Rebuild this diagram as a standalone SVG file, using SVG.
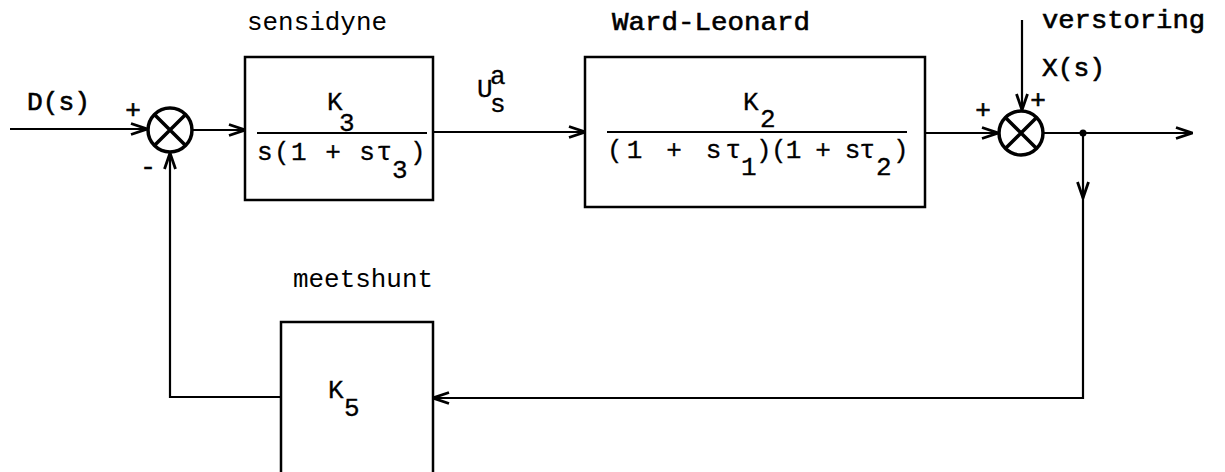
<svg xmlns="http://www.w3.org/2000/svg" width="1225" height="472" viewBox="0 0 1225 472">
<style>
text{font-family:"Liberation Mono","DejaVu Sans Mono",monospace;fill:#000;font-size:26px}
.b{stroke:#000;stroke-width:0.6}
.lbl{stroke:#000;stroke-width:0.3}
.box{fill:none;stroke:#000;stroke-width:2.5}
.ln{fill:none;stroke:#000;stroke-width:2.2}
.sum{fill:none;stroke:#000;stroke-width:3.5}
.frac{stroke:#000;stroke-width:2.2}
</style>
<defs>
<marker id="ah" viewBox="0 0 18 14" refX="17" refY="7" markerWidth="18" markerHeight="14" markerUnits="userSpaceOnUse" orient="auto">
<path d="M1,1.5 L17,7 L1,12.5" fill="none" stroke="#000" stroke-width="2.8"/>
</marker>
</defs>
<rect width="1225" height="472" fill="#fff"/>

<g id="connectors">
<path class="ln" d="M10,129 H147" marker-end="url(#ah)"/>
<path class="ln" d="M193,130 H245" marker-end="url(#ah)"/>
<path class="ln" d="M433,132 H585" marker-end="url(#ah)"/>
<path class="ln" d="M925,133 H998" marker-end="url(#ah)"/>
<path class="ln" d="M1022,20 V110" marker-end="url(#ah)"/>
<path class="ln" d="M1044,133 H1192" marker-end="url(#ah)"/>
<path class="ln" d="M1083,133 V198" marker-end="url(#ah)"/>
<path class="ln" d="M1083,190 V398 H433" marker-end="url(#ah)"/>
<path class="ln" d="M281,397 H170 V153" marker-end="url(#ah)"/>
<circle cx="1083" cy="133" r="3.5" fill="#000"/>
</g>

<g id="input">
<text class="b" x="27" y="110" textLength="63" lengthAdjust="spacingAndGlyphs">D(s)</text>
</g>

<g id="sum1">
<circle class="sum" cx="170" cy="130" r="22"/>
<path class="sum" d="M154.4,114.4 L185.6,145.6 M185.6,114.4 L154.4,145.6" stroke-width="2.8"/>
<text class="b" x="133" y="118" text-anchor="middle" font-size="24">+</text>
<text class="b" x="148" y="175" text-anchor="middle" font-size="24">-</text>
</g>

<g id="sensidyne">
<text x="247" y="30" textLength="140" lengthAdjust="spacingAndGlyphs">sensidyne</text>
<rect class="box" x="245" y="57" width="188" height="143"/>
<text class="lbl" x="327" y="110">K</text>
<text class="lbl" x="339" y="131">3</text>
<line class="frac" x1="257" y1="133" x2="427" y2="133"/>
<text class="lbl" x="257" y="160" textLength="135" lengthAdjust="spacing">s(1 + sτ</text>
<text class="lbl" x="392" y="178">3</text>
<text class="lbl" x="410" y="160">)</text>
</g>

<g id="signal-u">
<text class="lbl" x="477" y="97">U</text>
<text class="lbl" x="490" y="84">a</text>
<text class="lbl" x="490" y="112">s</text>
</g>

<g id="ward-leonard">
<text class="b" x="612" y="30" textLength="198" lengthAdjust="spacingAndGlyphs">Ward-Leonard</text>
<rect class="box" x="585" y="57" width="340" height="150"/>
<text class="lbl" x="743" y="110">K</text>
<text class="lbl" x="760" y="127">2</text>
<line class="frac" x1="607" y1="132" x2="907" y2="132"/>
<text class="lbl" x="607" y="158" textLength="134" lengthAdjust="spacing">(1 + sτ</text>
<text class="lbl" x="741" y="175" font-size="24">1</text>
<text class="lbl" x="756" y="158">)</text>
<text class="lbl" x="771" y="158" textLength="104" lengthAdjust="spacing">(1 + sτ</text>
<text class="lbl" x="876" y="175" font-size="24">2</text>
<text class="lbl" x="893" y="158">)</text>
</g>

<g id="sum2">
<circle class="sum" cx="1021" cy="133" r="22"/>
<path class="sum" d="M1005.4,117.4 L1036.6,148.6 M1036.6,117.4 L1005.4,148.6" stroke-width="2.8"/>
<text class="b" x="983" y="118" text-anchor="middle" font-size="24">+</text>
<text class="b" x="1038" y="108" text-anchor="middle" font-size="24">+</text>
</g>

<g id="disturbance">
<text class="b" x="1042" y="28" textLength="163" lengthAdjust="spacingAndGlyphs">verstoring</text>
<text class="b" x="1042" y="76" textLength="63" lengthAdjust="spacingAndGlyphs">X(s)</text>
</g>

<g id="meetshunt">
<text x="293" y="287" textLength="140" lengthAdjust="spacingAndGlyphs">meetshunt</text>
<path class="box" d="M281,472 V322 H433 V472"/>
<text class="lbl" x="328" y="398">K</text>
<text class="lbl" x="344" y="416">5</text>
</g>
</svg>
